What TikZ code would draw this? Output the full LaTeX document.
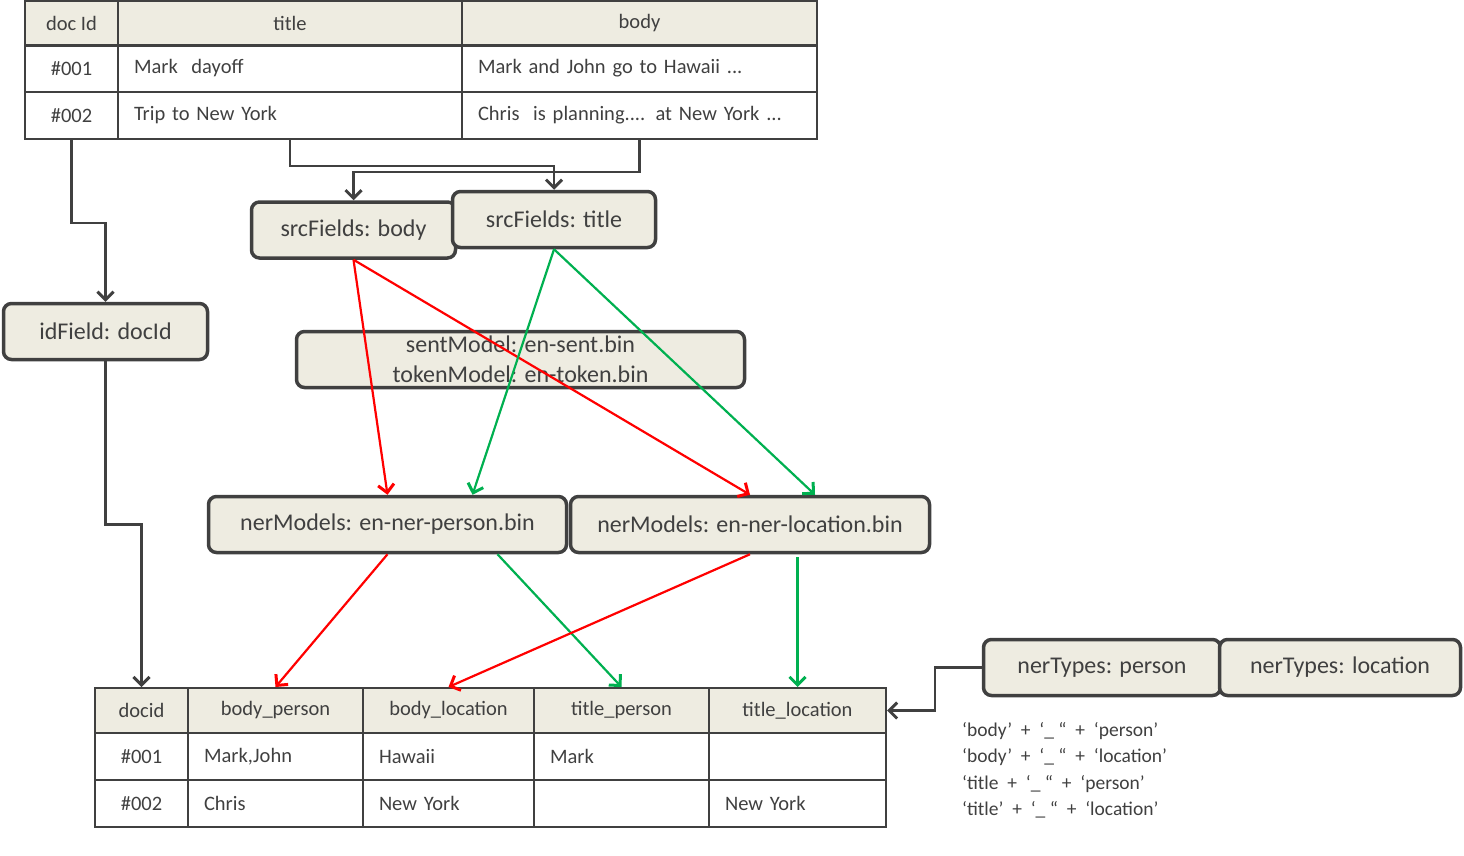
\documentclass[tikz,border=0pt]{standalone}
\usepackage{fontspec}
\setmainfont{Carlito}
\usetikzlibrary{arrows.meta,calc}
\definecolor{ink}{HTML}{404040}
\definecolor{tan}{HTML}{EEECE1}
\definecolor{nerred}{HTML}{FF0000}
\definecolor{nergreen}{HTML}{00B050}
\begin{document}
\begin{tikzpicture}[x=1pt,y=-1pt,
  box/.style={draw=ink, fill=tan, line width=3.5pt, rounded corners=8pt, text=ink,
    font=\fontsize{24}{30}\selectfont, minimum height=56pt, inner sep=0pt, align=center},
  cell/.style={draw=ink, line width=2pt, text=ink, font=\fontsize{20.5}{24}\selectfont,
    inner sep=0pt, anchor=center, minimum height=47pt},
  hcell/.style={cell, fill=tan, minimum height=45pt},
  lcell/.style={cell, inner xsep=16pt, align=left},
  link/.style={draw=ink, line width=2.5pt, -{Straight Barb[length=8pt,width=16pt,line width=3pt]}},
  redlink/.style={draw=nerred, line width=2.2pt, -{Straight Barb[length=8pt,width=16pt,line width=3pt]}},
  greenlink/.style={draw=nergreen, line width=2.2pt, -{Straight Barb[length=8pt,width=16pt,line width=3pt]}},
]
\useasboundingbox (0,0) rectangle (1464,856);

% source documents table
\node[hcell, minimum width=93pt]  (d0) at (71.5,23.5) {doc Id};
\node[hcell, minimum width=344pt] (t0) at (290,23.5)  {title};
\node[hcell, minimum width=355pt] (b0) at (639.5,23.5) {body};
\node[cell, minimum width=93pt]   (d1) at (71.5,68.5) {\#001};
\node[lcell, text width=312pt]    (t1) at (290,68.5)  {Mark~~dayoff};
\node[lcell, text width=323pt]    (b1) at (639.5,68.5) {Mark and John go to Hawaii ...};
\node[cell, minimum width=93pt]   (d2) at (71.5,115.5) {\#002};
\node[lcell, text width=312pt]    (t2) at (290,115.5)  {Trip to New York};
\node[lcell, text width=323pt]    (b2) at (639.5,115.5) {Chris~~is planning.... at New York ...};

% configuration boxes
\node[box, minimum width=204pt] (sbody)  at (353.5,230)   {srcFields: body};
\node[box, minimum width=203pt] (stitle) at (554,219.5)   {srcFields: title};
\node[box, minimum width=204pt] (idf)    at (105.5,331.5) {idField: docId};
\node[box, minimum width=448pt] (sent)   at (520.5,359.5) {sentModel: en-sent.bin\\tokenModel: en-token.bin};
\node[box, minimum width=358pt] (per)    at (387.5,524.5) {nerModels: en-ner-person.bin};
\node[box, minimum width=359pt] (loc)    at (750,524.5)   {nerModels: en-ner-location.bin};
\node[box, minimum width=237pt] (ntp)    at (1102,667.5)  {nerTypes: person};
\node[box, minimum width=241pt] (ntl)    at (1340,667.5)  {nerTypes: location};

% result table
\node[hcell, minimum width=93pt]  (hid) at (141.5,710.5) {docid};
\node[hcell, minimum width=175pt] (hbp) at (275.5,710.5) {body\_person};
\node[hcell, minimum width=171pt] (hbl) at (448.5,710.5) {body\_location};
\node[hcell, minimum width=175pt] (htp) at (621.5,710.5) {title\_person};
\node[hcell, minimum width=177pt] (htl) at (797.5,710.5) {title\_location};
\node[cell, minimum width=93pt]  (r1id) at (141.5,756.5) {\#001};
\node[lcell, text width=143pt]   (r1bp) at (275.5,756.5) {Mark,John};
\node[lcell, text width=139pt]   (r1bl) at (448.5,756.5) {Hawaii};
\node[lcell, text width=143pt]   (r1tp) at (621.5,756.5) {Mark};
\node[lcell, text width=145pt]   (r1tl) at (797.5,756.5) {};
\node[cell, minimum width=93pt]  (r2id) at (141.5,803.5) {\#002};
\node[lcell, text width=143pt]   (r2bp) at (275.5,803.5) {Chris};
\node[lcell, text width=139pt]   (r2bl) at (448.5,803.5) {New York};
\node[lcell, text width=143pt]   (r2tp) at (621.5,803.5) {};
\node[lcell, text width=145pt]   (r2tl) at (797.5,803.5) {New York};

% column naming rule
\node[anchor=north west, align=left, text=ink, inner sep=0pt,
      font=\fontsize{19.5}{26.5}\selectfont] (rule) at (962,722)
  {‘body’~ + ~‘\_~“~ + ~‘person’\\
   ‘body’~ + ~‘\_~“~ + ~‘location’\\
   ‘title~ + ~‘\_~“~ + ~‘person’\\
   ‘title’~ + ~‘\_~“~ + ~‘location’};

% field routing
\draw[link] (d2.south) -- ++(0,83) -| (idf.north);
\draw[link] (t2.south) -- ++(0,26) -| (stitle.north);
\draw[link] (b2.south) -- ++(0,32) -| (sbody.north);
\draw[link] (idf.south) -- ++(0,163) -| (hid.north);
\draw[link] (ntp.west) -- ++(-47,0) |- (htl.east);

% entity extraction flows
\draw[redlink]   (sbody.south) -- (per.north);
\draw[redlink]   (sbody.south) -- (loc.north);
\draw[greenlink] (stitle.south) -- ($(per.north)+(85,0)$);
\draw[greenlink] (stitle.south) -- ($(loc.north)+(65,0)$);
\draw[redlink]   (per.south) -- (hbp.north);
\draw[greenlink] ($(per.south)+(110,0)$) -- (htp.north);
\draw[redlink]   (loc.south) -- (hbl.north);
\draw[greenlink] (htl.north |- loc.south) ++(0,3) -- (htl.north);
\end{tikzpicture}
\end{document}
